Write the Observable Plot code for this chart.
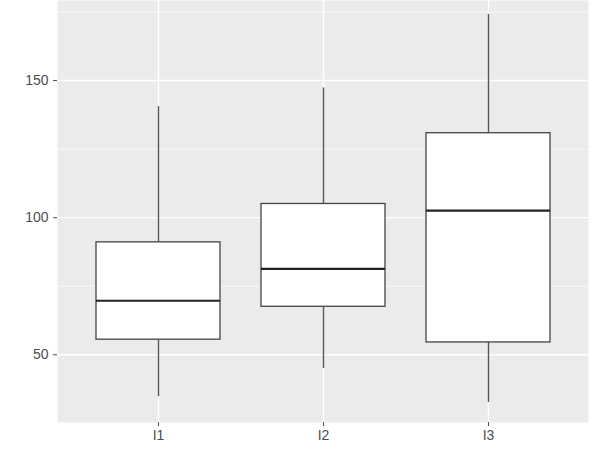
<!DOCTYPE html>
<html>
<head>
<meta charset="utf-8">
<script src="https://cdn.jsdelivr.net/npm/d3@7"></script>
<script src="https://cdn.jsdelivr.net/npm/@observablehq/plot@0.6"></script>
<style>
  html, body { margin: 0; padding: 0; background: #fff; }
  #chart svg { display: block; }
</style>
</head>
<body>
<div id="chart"></div>
<script>
const categories   = ["I1", "I2", "I3"];
const lowerWhisker = [34.7, 45.0, 32.6];
const q1           = [55.5, 67.5, 54.5];
const median       = [69.7, 81.3, 102.6];
const q3           = [91.0, 105.0, 130.8];
const upperWhisker = [140.5, 147.3, 174.1];
const majorTicks   = [50, 100, 150];
const minorTicks   = [75, 125, 175];

const rows = categories.map((c, i) => ({
  cat: c, lo: lowerWhisker[i], q1: q1[i], med: median[i], q3: q3[i], hi: upperWhisker[i]
}));

const chart = Plot.plot({
  width: 605,
  height: 455,
  marginLeft: 57,
  marginRight: 17,
  marginTop: 0,
  marginBottom: 33,
  style: { fontFamily: "'Liberation Sans', Arial, sans-serif", background: "#fff", overflow: "visible" },
  x: { type: "band", domain: categories, paddingInner: 0.25, paddingOuter: 0.225, label: null },
  y: { domain: [25.3, 179.2], label: null },
  marks: [
    Plot.frame({ fill: "#EBEBEB", stroke: null }),
    Plot.gridY(minorTicks, { stroke: "#fff", strokeOpacity: 1, strokeWidth: 0.7 }),
    Plot.gridY(majorTicks, { stroke: "#fff", strokeOpacity: 1, strokeWidth: 1.4 }),
    Plot.gridX(categories, { stroke: "#fff", strokeOpacity: 1, strokeWidth: 1.4 }),
    Plot.ruleX(rows, { x: "cat", y1: "q3", y2: "hi", stroke: "#555", strokeWidth: 1.4 }),
    Plot.ruleX(rows, { x: "cat", y1: "lo", y2: "q1", stroke: "#555", strokeWidth: 1.4 }),
    Plot.barY(rows, { x: "cat", y1: "q1", y2: "q3", fill: "#fff", stroke: "#444", strokeWidth: 1.3 }),
    Plot.tickY(rows, { x: "cat", y: "med", stroke: "#222", strokeWidth: 2.2 }),
    Plot.axisY(majorTicks, { tickSize: 4, tickPadding: 5, fontSize: 14, color: "#4D4D4D", label: null }),
    Plot.axisX(categories, { tickSize: 4, tickPadding: 4, fontSize: 14, color: "#4D4D4D", label: null })
  ]
});
document.getElementById("chart").appendChild(chart);
</script>
</body>
</html>
